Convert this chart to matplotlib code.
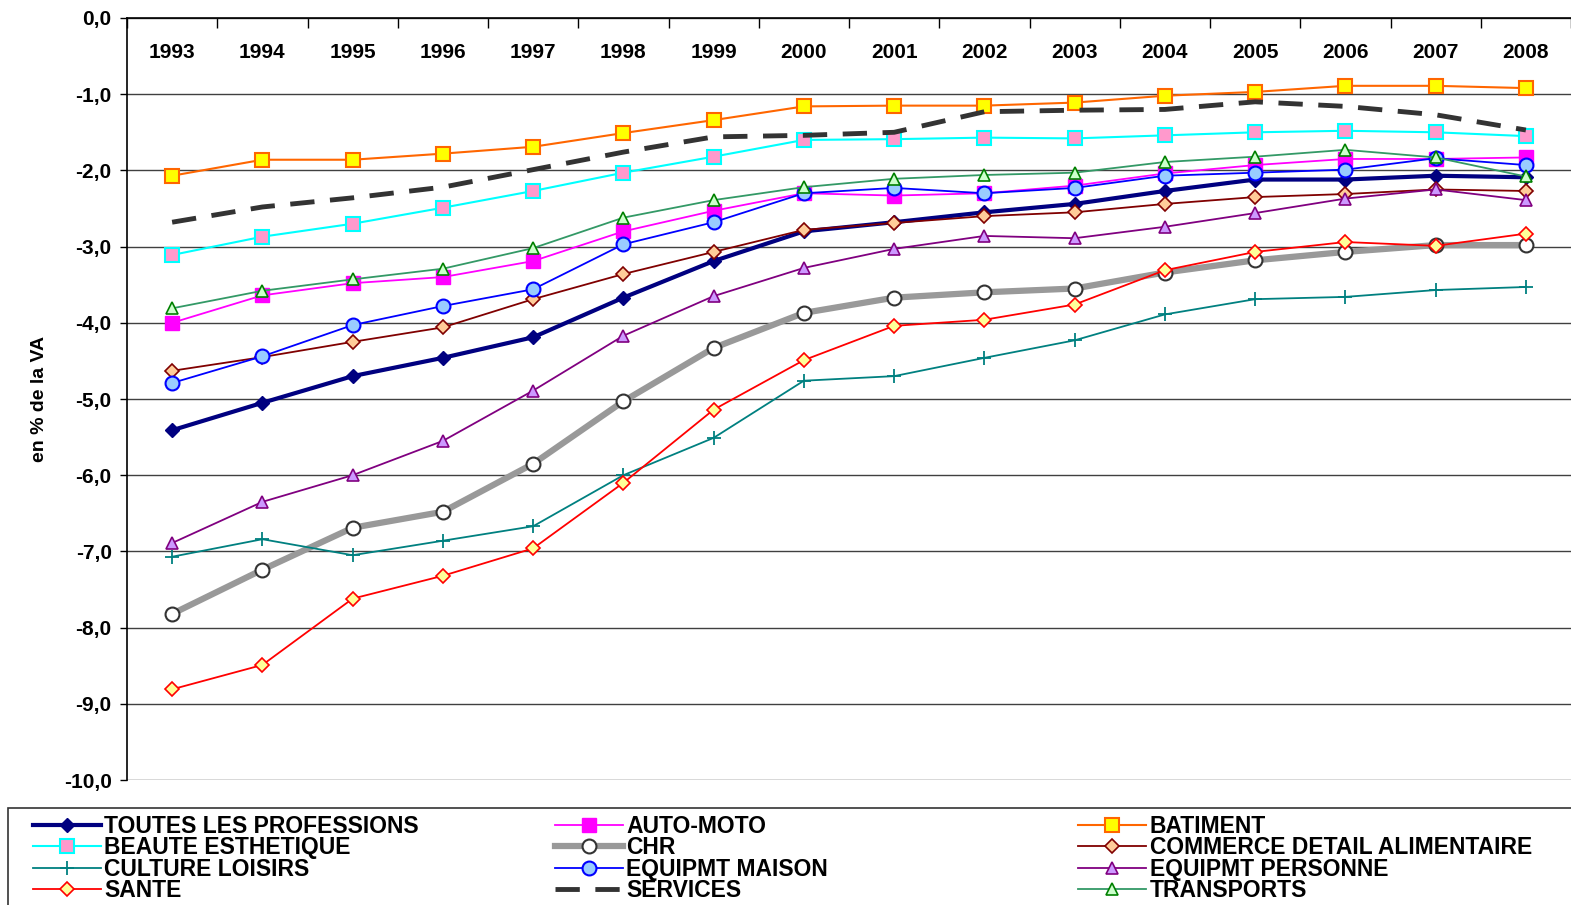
import numpy as np
import matplotlib
matplotlib.use("Agg")
import matplotlib.pyplot as plt
from matplotlib.patches import Rectangle

plt.rcParams['font.family'] = ['Liberation Sans', 'DejaVu Sans']
plt.rcParams['font.weight'] = 'bold'

years = [str(y) for y in range(1993, 2009)]

# valeurs (en % de la VA)
toutes = [-5.41, -5.05, -4.70, -4.46, -4.19, -3.67, -3.19, -2.80, -2.68, -2.55, -2.44, -2.27, -2.12, -2.12, -2.07, -2.09]
auto_moto = [-4.00, -3.64, -3.48, -3.40, -3.19, -2.80, -2.53, -2.30, -2.33, -2.30, -2.20, -2.04, -1.93, -1.85, -1.85, -1.83]
batiment = [-2.07, -1.86, -1.86, -1.78, -1.69, -1.51, -1.34, -1.16, -1.15, -1.15, -1.11, -1.02, -0.97, -0.89, -0.89, -0.92]
beaute = [-3.11, -2.87, -2.70, -2.49, -2.27, -2.03, -1.82, -1.60, -1.59, -1.57, -1.58, -1.54, -1.50, -1.48, -1.50, -1.55]
chr_ = [-7.82, -7.24, -6.69, -6.48, -5.85, -5.03, -4.33, -3.87, -3.67, -3.60, -3.55, -3.34, -3.18, -3.07, -2.98, -2.98]
commerce = [-4.63, -4.45, -4.25, -4.06, -3.69, -3.36, -3.07, -2.78, -2.69, -2.60, -2.55, -2.44, -2.35, -2.31, -2.25, -2.27]
culture = [-7.07, -6.84, -7.05, -6.86, -6.67, -6.00, -5.51, -4.76, -4.70, -4.46, -4.23, -3.89, -3.69, -3.66, -3.57, -3.53]
equip_maison = [-4.79, -4.44, -4.03, -3.78, -3.56, -2.97, -2.68, -2.30, -2.23, -2.30, -2.23, -2.07, -2.03, -1.99, -1.84, -1.93]
equip_personne = [-6.89, -6.35, -6.00, -5.55, -4.89, -4.17, -3.65, -3.28, -3.03, -2.86, -2.89, -2.74, -2.56, -2.37, -2.25, -2.39]
sante = [-8.81, -8.49, -7.62, -7.32, -6.96, -6.10, -5.14, -4.49, -4.04, -3.96, -3.76, -3.31, -3.07, -2.94, -2.99, -2.83]
services = [-2.68, -2.48, -2.36, -2.22, -1.99, -1.76, -1.56, -1.54, -1.50, -1.23, -1.21, -1.20, -1.10, -1.16, -1.27, -1.47]
transports = [-3.81, -3.58, -3.43, -3.29, -3.02, -2.62, -2.39, -2.22, -2.11, -2.06, -2.03, -1.89, -1.82, -1.73, -1.83, -2.08]

labels = ["TOUTES LES PROFESSIONS", "AUTO-MOTO", "BATIMENT",
          "BEAUTE ESTHETIQUE", "CHR", "COMMERCE DETAIL ALIMENTAIRE",
          "CULTURE LOISIRS", "EQUIPMT MAISON", "EQUIPMT PERSONNE",
          "SANTE", "SERVICES", "TRANSPORTS"]
series = [toutes, auto_moto, batiment, beaute, chr_, commerce,
          culture, equip_maison, equip_personne, sante, services, transports]

# style de chaque serie : couleur, largeur, marqueur, taille, remplissage, bord, style de trait
styles = [
    dict(color="#000080", lw=3.0, marker="D", ms=7, mfc="#000080", mec="#000080"),
    dict(color="#FF00FF", lw=1.3, marker="s", ms=10, mfc="#FF00FF", mec="#FF00FF"),
    dict(color="#FF6600", lw=1.5, marker="s", ms=10, mfc="#FFFF00", mec="#FF6600", mew=1.5),
    dict(color="#00FFFF", lw=1.5, marker="s", ms=10, mfc="#FF99CC", mec="#00FFFF", mew=1.5),
    dict(color="#999999", lw=4.5, marker="o", ms=10, mfc="white", mec="#333333", mew=1.5),
    dict(color="#800000", lw=1.3, marker="D", ms=7, mfc="#FFCC99", mec="#800000", mew=1.2),
    dict(color="#008080", lw=1.3, marker="+", ms=10, mec="#008080", mew=1.3),
    dict(color="#0000FF", lw=1.3, marker="o", ms=10, mfc="#99CCFF", mec="#0000FF", mew=1.5),
    dict(color="#800080", lw=1.3, marker="^", ms=9, mfc="#CC99FF", mec="#800080", mew=1.2),
    dict(color="#FF0000", lw=1.3, marker="D", ms=7, mfc="#FFFF99", mec="#FF0000", mew=1.2),
    dict(color="#333333", lw=3.5, ls=(0, (5, 3.2))),
    dict(color="#339966", lw=1.3, marker="^", ms=9, mfc="#CCFFCC", mec="#008000", mew=1.2),
]

W, H = 1571, 905
fig = plt.figure(figsize=(W / 100, H / 100), dpi=100)
ax = fig.add_axes([127 / W, 1 - 780 / H, (W - 127) / W, (780 - 18) / H])

x = np.arange(len(years))
handles = []
for vals, lab, st in zip(series, labels, styles):
    h, = ax.plot(x, vals, label=lab, **st)
    handles.append(h)

ax.set_ylim(-10, 0)
ax.set_xlim(-0.5, (W - 127) / 90.4 - 0.5)

ax.set_yticks(range(-10, 1))
ax.set_yticklabels([f"{v:.1f}".replace(".", ",") for v in range(-10, 1)], fontsize=15)
ax.tick_params(axis="y", direction="out", length=5, width=1, pad=6)
ax.yaxis.grid(True, color="#404040", lw=1)
ax.set_axisbelow(True)

# axe des annees en haut (croise a 0)
ax.xaxis.tick_top()
ax.set_xticks(np.arange(-0.5, len(years), 1))
ax.set_xticks(x, labels=years, minor=True)
ax.tick_params(axis="x", which="major", direction="in", length=7, width=1,
               top=True, bottom=False, labeltop=False, labelbottom=False)
ax.tick_params(axis="x", which="minor", length=0, top=True, bottom=False,
               labeltop=True, labelbottom=False, labelsize=15, pad=-32)

for s in ["right", "bottom"]:
    ax.spines[s].set_visible(False)
ax.spines["left"].set_linewidth(1.2)
ax.spines["top"].set_linewidth(1.2)

ax.set_ylabel("en % de la VA", fontsize=14, fontweight="bold")
ax.yaxis.set_label_coords(-0.055, 0.5)

# legende en 3 colonnes, remplie ligne par ligne
col_x = [33, 555, 1078]
for c in range(3):
    hs = handles[c::3]
    ls = labels[c::3]
    fig.legend(hs, ls, loc="upper left", bbox_to_anchor=(col_x[c] / W, 1 - 815 / H),
               frameon=False, fontsize=16.5, numpoints=1, handlelength=2.95,
               handletextpad=0.17, borderpad=0, borderaxespad=0, labelspacing=-0.07)

fig.patches.append(Rectangle((8 / W, -0.05), 1.05, 0.05 + 1 - 808 / H,
                             transform=fig.transFigure, fill=False,
                             edgecolor="#333333", lw=1.2))

fig.savefig("out.png", dpi=100)
